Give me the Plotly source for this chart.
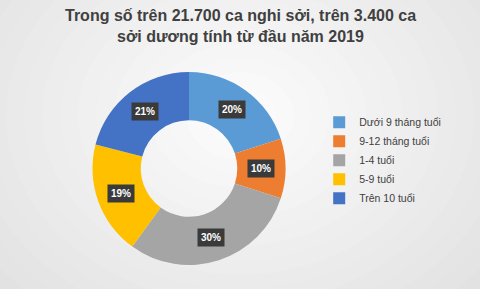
import math
import plotly.graph_objects as go

labels = ["Dưới 9 tháng tuổi", "9-12 tháng tuổi", "1-4 tuổi", "5-9 tuổi", "Trên 10 tuổi"]
values = [20, 10, 30, 19, 21]
colors = ["#5B9BD5", "#ED7D31", "#A5A5A5", "#FFC000", "#4472C4"]
title_lines = ["Trong số trên 21.700 ca nghi sởi, trên 3.400 ca", "sởi dương tính từ đầu năm 2019"]

W, H = 480, 289
dom_x = [92 / W, 286 / W]
dom_y = [1 - 265 / H, 1 - 72 / H]
hole = 0.5

fig = go.Figure()
fig.add_trace(go.Pie(
    labels=labels, values=values, sort=False, direction="clockwise", rotation=0,
    hole=hole, marker=dict(colors=colors, line=dict(width=0)),
    textinfo="none", hoverinfo="label+percent",
    domain=dict(x=dom_x, y=dom_y),
))

# background radial gradient approximation
shapes = []
n = 24
for i in range(n):
    t = i / (n - 1)
    g = int(218 + (252 - 218) * t)
    rx = 1.15 * (1 - t) + 0.05
    ry = 1.15 * (1 - t) + 0.05
    shapes.append(dict(type="circle", xref="paper", yref="paper",
                       x0=0.5 - rx * 0.75, x1=0.5 + rx * 0.75,
                       y0=0.6 - ry, y1=0.6 + ry,
                       fillcolor=f"rgb({g},{g},{g})", line=dict(width=0), layer="below"))

# label boxes at the middle of each ring segment, from cumulative values
cx = (dom_x[0] + dom_x[1]) / 2 * W
cy = (1 - (dom_y[0] + dom_y[1]) / 2) * H
R = min((dom_x[1] - dom_x[0]) * W, (dom_y[1] - dom_y[0]) * H) / 2
rm = R * (1 + hole) / 2
total = sum(values)
cum = 0
annotations = []
for v in values:
    mid = (cum + v / 2) / total * 2 * math.pi
    cum += v
    px = cx + rm * math.sin(mid)
    py = cy - rm * math.cos(mid)
    annotations.append(dict(
        x=px / W, y=1 - py / H, xref="paper", yref="paper",
        text=f"<b>{round(v / total * 100)}%</b>", showarrow=False,
        font=dict(family="Liberation Sans, Arial", size=10, color="white"),
        bgcolor="#3a3a3a", borderpad=3, xanchor="center", yanchor="middle",
    ))

# title lines
for i, line in enumerate(title_lines):
    annotations.append(dict(
        x=0.5, y=1 - (15 + 21 * i) / H, xref="paper", yref="paper",
        text=f"<b>{line}</b>", showarrow=False, xanchor="center", yanchor="middle",
        font=dict(family="Liberation Sans, Arial", size=16, color="#404040"),
    ))

fig.update_layout(
    width=W, height=H, margin=dict(l=0, r=0, t=0, b=0),
    paper_bgcolor="#dadada", plot_bgcolor="rgba(0,0,0,0)",
    legend=dict(x=0.665, y=0.627, xanchor="left", yanchor="top",
                font=dict(family="Liberation Sans, Arial", size=10.5, color="#404040"),
                bgcolor="rgba(0,0,0,0)", itemwidth=30),
    shapes=shapes, annotations=annotations,
)
fig.write_html("out.html")
